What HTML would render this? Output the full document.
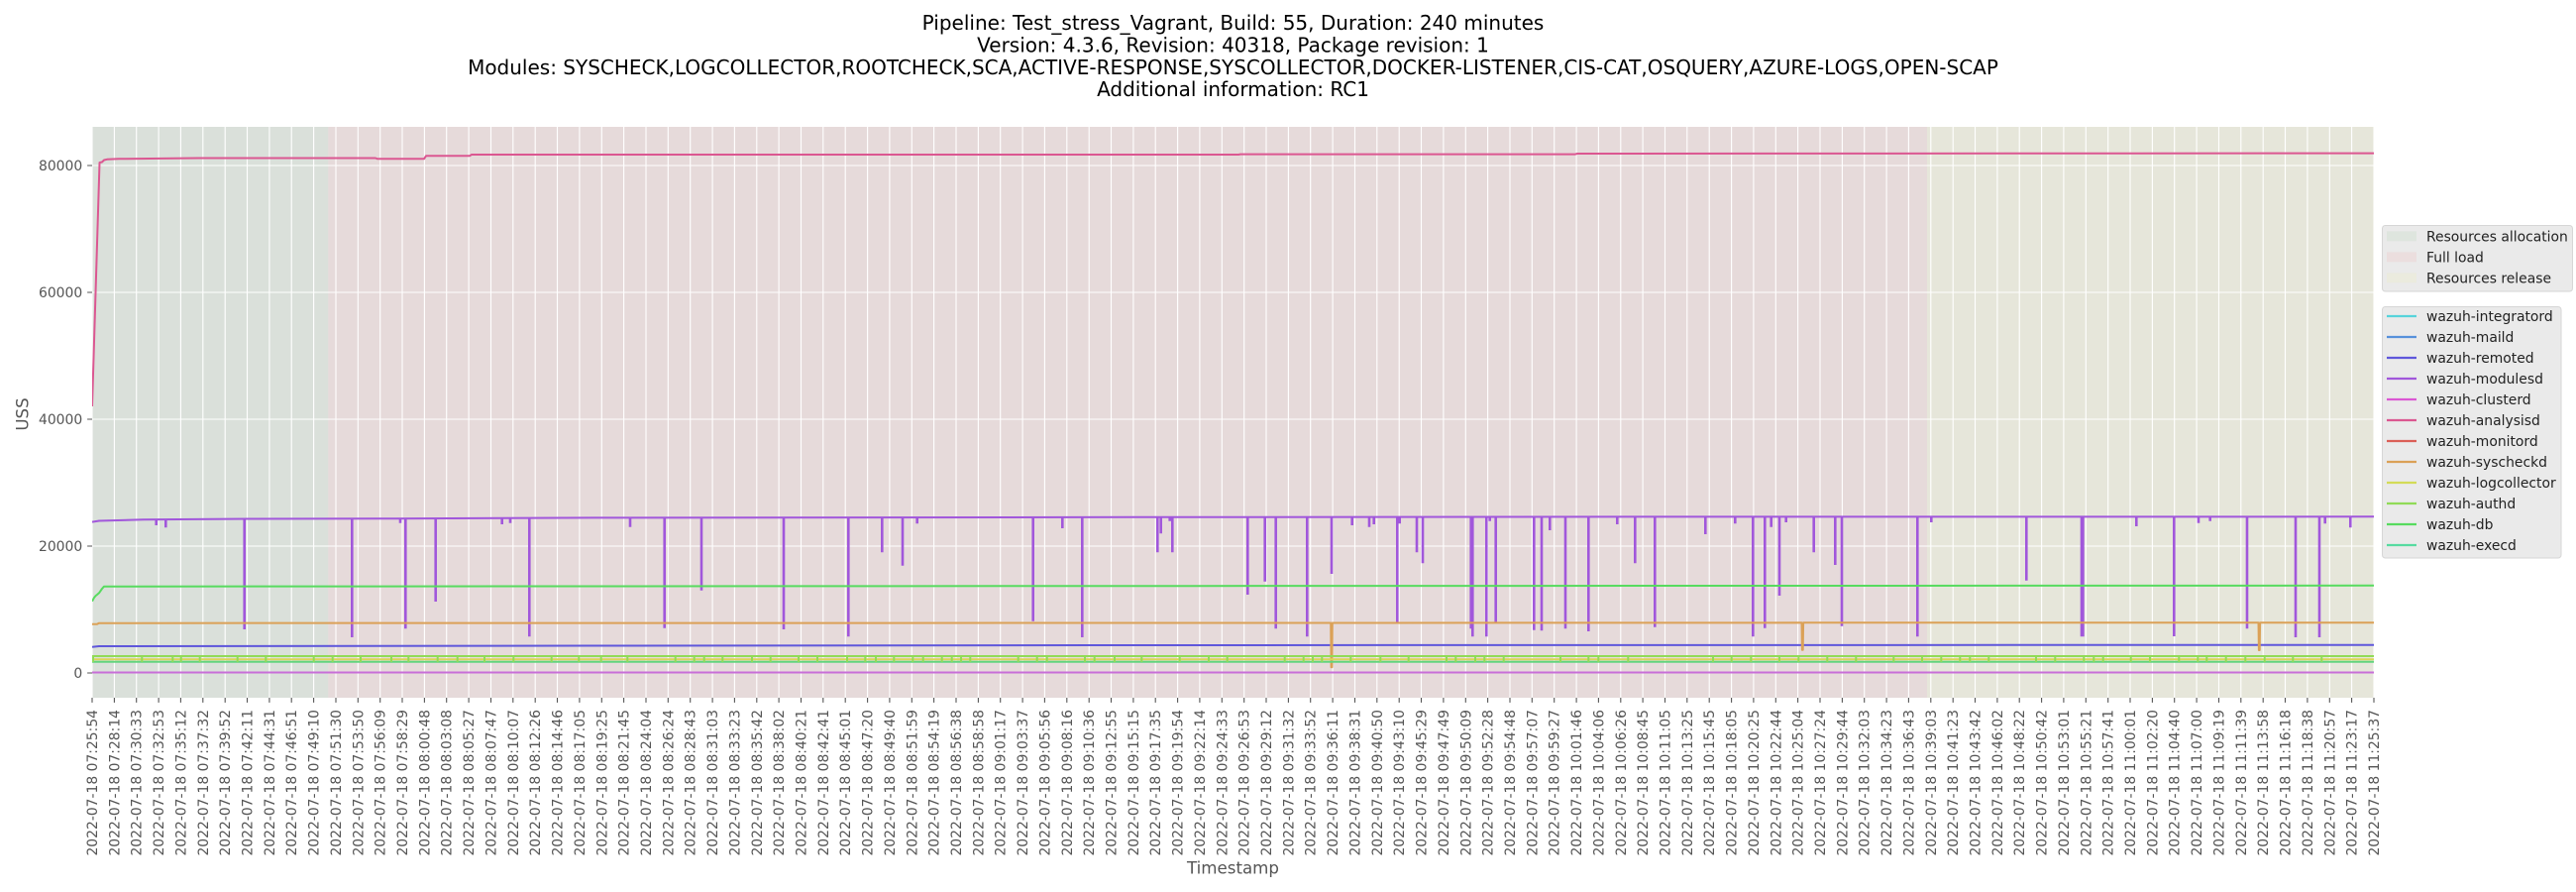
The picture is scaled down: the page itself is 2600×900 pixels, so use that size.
<!DOCTYPE html>
<html><head><meta charset="utf-8"><style>
html,body{margin:0;padding:0;background:#fff;}
svg{display:block;font-family:"DejaVu Sans","Liberation Sans",sans-serif;}
</style></head><body>
<svg width="2600" height="900" viewBox="0 0 2600 900" xmlns="http://www.w3.org/2000/svg">
<defs><clipPath id="pa"><rect x="93" y="128" width="2303" height="576"/></clipPath></defs>
<rect x="0" y="0" width="2600" height="900" fill="#fff"/>
<!-- title -->
<g font-size="20" fill="#000" text-anchor="middle">
<text x="1244.5" y="30.2">Pipeline: Test_stress_Vagrant, Build: 55, Duration: 240 minutes</text>
<text x="1244.5" y="52.5">Version: 4.3.6, Revision: 40318, Package revision: 1</text>
<text x="1244.5" y="74.8">Modules: SYSCHECK,LOGCOLLECTOR,ROOTCHECK,SCA,ACTIVE-RESPONSE,SYSCOLLECTOR,DOCKER-LISTENER,CIS-CAT,OSQUERY,AZURE-LOGS,OPEN-SCAP</text>
<text x="1244.5" y="97.1">Additional information: RC1</text>
</g>
<!-- axes background and spans -->
<rect x="93" y="128" width="2303" height="576" fill="#E5E5E5"/>
<rect x="93" y="128" width="238.3" height="576" fill="#DAE0DA"/>
<rect x="331.3" y="128" width="1613.7" height="576" fill="#E6DADA"/>
<rect x="1945" y="128" width="451" height="576" fill="#E6E6DA"/>
<!-- grid -->
<g stroke="#fff" stroke-width="1.1" fill="none">
<path d="M93 679H2396M93 551H2396M93 423H2396M93 295H2396M93 167H2396"/>
<path d="M93 128V704M115.4 128V704M137.7 128V704M160.1 128V704M182.4 128V704M204.8 128V704M227.2 128V704M249.5 128V704M271.9 128V704M294.2 128V704M316.6 128V704M339 128V704M361.3 128V704M383.7 128V704M406 128V704M428.4 128V704M450.7 128V704M473.1 128V704M495.5 128V704M517.8 128V704M540.2 128V704M562.5 128V704M584.9 128V704M607.3 128V704M629.6 128V704M652 128V704M674.3 128V704M696.7 128V704M719.1 128V704M741.4 128V704M763.8 128V704M786.1 128V704M808.5 128V704M830.8 128V704M853.2 128V704M875.6 128V704M897.9 128V704M920.3 128V704M942.6 128V704M965 128V704M987.4 128V704M1009.7 128V704M1032.1 128V704M1054.4 128V704M1076.8 128V704M1099.2 128V704M1121.5 128V704M1143.9 128V704M1166.2 128V704M1188.6 128V704M1210.9 128V704M1233.3 128V704M1255.7 128V704M1278 128V704M1300.4 128V704M1322.7 128V704M1345.1 128V704M1367.5 128V704M1389.8 128V704M1412.2 128V704M1434.5 128V704M1456.9 128V704M1479.3 128V704M1501.6 128V704M1524 128V704M1546.3 128V704M1568.7 128V704M1591.1 128V704M1613.4 128V704M1635.8 128V704M1658.1 128V704M1680.5 128V704M1702.8 128V704M1725.2 128V704M1747.6 128V704M1769.9 128V704M1792.3 128V704M1814.6 128V704M1837 128V704M1859.4 128V704M1881.7 128V704M1904.1 128V704M1926.4 128V704M1948.8 128V704M1971.2 128V704M1993.5 128V704M2015.9 128V704M2038.2 128V704M2060.6 128V704M2082.9 128V704M2105.3 128V704M2127.7 128V704M2150 128V704M2172.4 128V704M2194.7 128V704M2217.1 128V704M2239.5 128V704M2261.8 128V704M2284.2 128V704M2306.5 128V704M2328.9 128V704M2351.3 128V704M2373.6 128V704M2396 128V704"/>
</g>
<!-- data -->
<g clip-path="url(#pa)" fill="none" stroke-linejoin="round">
<!-- clusterd ~0 -->
<path d="M93 678.5H2396" stroke="#C86ED8" stroke-width="2"/>
<!-- remoted -->
<path d="M93 652.7L100 652L600 651.5L1100 651L2396 650.7" stroke="#5F57DB" stroke-width="2"/>
<!-- modulesd -->
<path d="M93 526.7L100 525.5L145 524.3L250 523.5L400 523.2L600 522.4L1150 521.8L1650 521.4L2396 521.3" stroke="#A157DB" stroke-width="2"/>
<path stroke="#A157DB" stroke-width="2.6" d="M157.7 524V530M167.3 524V532.3M246.7 523.5V635M355.3 523.3V643M404 523.2V527.7M409.3 523.2V634.3M439.7 523.1V607M506.7 523V529M515 523V527.7M534.3 522.9V642.3M636 522.4V531.7M670.7 522.4V633.7M708 522.3V595.7M791 522.2V635M856.3 522.2V642.3M890.3 522.1V557.3M911 522.1V570.7M925.7 522.1V528.3M1042.7 522V626.7M1072.3 522V533M1092.3 521.9V643M1168.3 521.8V557.3M1171.7 521.8V538.3M1180.7 521.8V525.7M1183.3 521.8V557.3M1259.3 521.7V600M1276.7 521.7V586.7M1287.7 521.7V634.3M1319.3 521.7V642.3M1344 521.7V579M1364.7 521.7V530M1382 521.7V531.7M1386.7 521.7V529M1410.3 521.7V627.7M1412.7 521.7V528.3M1430 521.6V557.3M1436 521.6V568.3M1484.7 521.6V634.3M1486.3 521.6V642.3M1500.3 521.6V642.3M1503.7 521.6V525.7M1509.7 521.6V628.3M1548.3 521.5V635.7M1556 521.5V636.3M1564.3 521.5V535M1580 521.5V634.3M1603.3 521.5V637M1632.3 521.4V529M1650.3 521.4V568.3M1670.3 521.4V632.7M1721.3 521.3V539M1751.3 521.3V528.3M1769.3 521.3V642.3M1781.3 521.3V633.7M1787.7 521.3V531.7M1796 521.3V601M1802.7 521.3V527M1830.7 521.3V557.3M1852.3 521.3V570M1859 521.3V631.7M1935.3 521.3V642.3M1949.3 521.3V527M2045.3 521.3V585.7M2101 521.3V642.3M2102.4 521.3V642.3M2156.3 521.3V531M2194.3 521.3V642M2219 521.3V527.7M2230.7 521.3V525.7M2268 521.3V634.3M2317 521.3V643M2341 521.3V643M2346.7 521.3V528.3M2372.3 521.3V532.3"/>
<!-- analysisd -->
<path d="M93 410L100.5 164L103 163.5L105 161.5L108 160.8L120 160.3L200 159.5L379 159.5L381 160.3L428 160.3L430 157.3L474 157.3L476 156L1250 156L1252 155.6L1590 155.6L1592 155L2396 154.6" stroke="#DB5791" stroke-width="2"/>
<!-- syscheckd -->
<path d="M93 629.7L98 629.7L100 628.7L1343.2 628.5L1343.6 673.3L1344.4 673.3L1344.8 628.5L1818.5 628.3L1818.9 655.7L1819.7 655.7L1820.1 628.3L2279.5 628.3L2279.9 656L2280.7 656L2281.1 628.3L2396 628.3" stroke="#DBA157" stroke-width="2"/>
<!-- execd -->
<path d="M93 667.7H2396" stroke="#62D47E" stroke-width="2"/>
<!-- logcollector -->
<path d="M93 665.2H2396" stroke="#DBD657" stroke-width="2"/>
<!-- authd -->
<path d="M93 662H2396" stroke="#91DB57" stroke-width="2"/>
<path stroke="#91DB57" stroke-width="2" d="M94 662V668M143.3 662V668M174.3 662V668M182.7 662V668M201.7 662V668M239.7 662V668M268.3 662V668M316.7 662V668M335.7 662V668M364 662V668M395 662V668M412.3 662V668M441.7 662V668M461.7 662V668M489 662V668M518.3 662V668M556.7 662V668M584.3 662V668M606.7 662V668M633.3 662V668M681.7 662V668M700.7 662V668M710.7 662V668M729.3 662V668M759 662V668M777.7 662V668M806 662V668M825 662V668M855 662V668M873.3 662V668M884 662V668M902.3 662V668M921.3 662V668M931.7 662V668M950.7 662V668M960.7 662V668M970 662V668M979.3 662V668M1027.7 662V668M1046.7 662V668M1056.7 662V668M1095 662V668M1104.7 662V668M1125 662V668M1152.3 662V668M1190.7 662V668M1220 662V668M1238.7 662V668M1296.7 662V668M1315.7 662V668M1325 662V668M1334.3 662V668M1363.3 662V668M1393.3 662V668M1421.7 662V668M1460 662V668M1469.3 662V668M1489 662V668M1498.3 662V668M1517.7 662V668M1575 662V668M1603.3 662V668M1613.3 662V668M1643.3 662V668M1729 662V668M1747.7 662V668M1767.3 662V668M1796 662V668M1815.3 662V668M1844.3 662V668M1873.3 662V668M1911.3 662V668M1940 662V668M1959.3 662V668M1978.3 662V668M1988.3 662V668M2007.3 662V668M2055 662V668M2074.3 662V668M2103.3 662V668M2113.3 662V668M2122.7 662V668M2150.7 662V668M2170 662V668M2199.3 662V668M2218.3 662V668M2227.3 662V668M2246.7 662V668M2266.3 662V668M2285.7 662V668M2314.3 662V668M2343.3 662V668"/>
<!-- db -->
<path d="M93 606.7L95 603L96.7 601L98 600L100 598.3L103 594L105 591.7L1200 591.2L2396 590.8" stroke="#57DB5F" stroke-width="2"/>
</g>
<!-- ticks -->
<g stroke="#555" stroke-width="1.1" fill="none">
<path d="M88.1 679H93M88.1 551H93M88.1 423H93M88.1 295H93M88.1 167H93"/>
<path d="M93 704v4.9M115.4 704v4.9M137.7 704v4.9M160.1 704v4.9M182.4 704v4.9M204.8 704v4.9M227.2 704v4.9M249.5 704v4.9M271.9 704v4.9M294.2 704v4.9M316.6 704v4.9M339 704v4.9M361.3 704v4.9M383.7 704v4.9M406 704v4.9M428.4 704v4.9M450.7 704v4.9M473.1 704v4.9M495.5 704v4.9M517.8 704v4.9M540.2 704v4.9M562.5 704v4.9M584.9 704v4.9M607.3 704v4.9M629.6 704v4.9M652 704v4.9M674.3 704v4.9M696.7 704v4.9M719.1 704v4.9M741.4 704v4.9M763.8 704v4.9M786.1 704v4.9M808.5 704v4.9M830.8 704v4.9M853.2 704v4.9M875.6 704v4.9M897.9 704v4.9M920.3 704v4.9M942.6 704v4.9M965 704v4.9M987.4 704v4.9M1009.7 704v4.9M1032.1 704v4.9M1054.4 704v4.9M1076.8 704v4.9M1099.2 704v4.9M1121.5 704v4.9M1143.9 704v4.9M1166.2 704v4.9M1188.6 704v4.9M1210.9 704v4.9M1233.3 704v4.9M1255.7 704v4.9M1278 704v4.9M1300.4 704v4.9M1322.7 704v4.9M1345.1 704v4.9M1367.5 704v4.9M1389.8 704v4.9M1412.2 704v4.9M1434.5 704v4.9M1456.9 704v4.9M1479.3 704v4.9M1501.6 704v4.9M1524 704v4.9M1546.3 704v4.9M1568.7 704v4.9M1591.1 704v4.9M1613.4 704v4.9M1635.8 704v4.9M1658.1 704v4.9M1680.5 704v4.9M1702.8 704v4.9M1725.2 704v4.9M1747.6 704v4.9M1769.9 704v4.9M1792.3 704v4.9M1814.6 704v4.9M1837 704v4.9M1859.4 704v4.9M1881.7 704v4.9M1904.1 704v4.9M1926.4 704v4.9M1948.8 704v4.9M1971.2 704v4.9M1993.5 704v4.9M2015.9 704v4.9M2038.2 704v4.9M2060.6 704v4.9M2082.9 704v4.9M2105.3 704v4.9M2127.7 704v4.9M2150 704v4.9M2172.4 704v4.9M2194.7 704v4.9M2217.1 704v4.9M2239.5 704v4.9M2261.8 704v4.9M2284.2 704v4.9M2306.5 704v4.9M2328.9 704v4.9M2351.3 704v4.9M2373.6 704v4.9M2396 704v4.9"/>
</g>
<!-- y tick labels -->
<g font-size="13.9" fill="#555" text-anchor="end">
<text x="83.2" y="684">0</text>
<text x="83.2" y="556">20000</text>
<text x="83.2" y="428">40000</text>
<text x="83.2" y="300">60000</text>
<text x="83.2" y="172">80000</text>
</g>
<!-- x tick labels -->
<g font-size="13.9" fill="#555" text-anchor="end">
<text transform="translate(98,716) rotate(-90)">2022-07-18 07:25:54</text>
<text transform="translate(120.4,716) rotate(-90)">2022-07-18 07:28:14</text>
<text transform="translate(142.7,716) rotate(-90)">2022-07-18 07:30:33</text>
<text transform="translate(165.1,716) rotate(-90)">2022-07-18 07:32:53</text>
<text transform="translate(187.4,716) rotate(-90)">2022-07-18 07:35:12</text>
<text transform="translate(209.8,716) rotate(-90)">2022-07-18 07:37:32</text>
<text transform="translate(232.2,716) rotate(-90)">2022-07-18 07:39:52</text>
<text transform="translate(254.5,716) rotate(-90)">2022-07-18 07:42:11</text>
<text transform="translate(276.9,716) rotate(-90)">2022-07-18 07:44:31</text>
<text transform="translate(299.2,716) rotate(-90)">2022-07-18 07:46:51</text>
<text transform="translate(321.6,716) rotate(-90)">2022-07-18 07:49:10</text>
<text transform="translate(344,716) rotate(-90)">2022-07-18 07:51:30</text>
<text transform="translate(366.3,716) rotate(-90)">2022-07-18 07:53:50</text>
<text transform="translate(388.7,716) rotate(-90)">2022-07-18 07:56:09</text>
<text transform="translate(411,716) rotate(-90)">2022-07-18 07:58:29</text>
<text transform="translate(433.4,716) rotate(-90)">2022-07-18 08:00:48</text>
<text transform="translate(455.7,716) rotate(-90)">2022-07-18 08:03:08</text>
<text transform="translate(478.1,716) rotate(-90)">2022-07-18 08:05:27</text>
<text transform="translate(500.5,716) rotate(-90)">2022-07-18 08:07:47</text>
<text transform="translate(522.8,716) rotate(-90)">2022-07-18 08:10:07</text>
<text transform="translate(545.2,716) rotate(-90)">2022-07-18 08:12:26</text>
<text transform="translate(567.5,716) rotate(-90)">2022-07-18 08:14:46</text>
<text transform="translate(589.9,716) rotate(-90)">2022-07-18 08:17:05</text>
<text transform="translate(612.3,716) rotate(-90)">2022-07-18 08:19:25</text>
<text transform="translate(634.6,716) rotate(-90)">2022-07-18 08:21:45</text>
<text transform="translate(657,716) rotate(-90)">2022-07-18 08:24:04</text>
<text transform="translate(679.3,716) rotate(-90)">2022-07-18 08:26:24</text>
<text transform="translate(701.7,716) rotate(-90)">2022-07-18 08:28:43</text>
<text transform="translate(724.1,716) rotate(-90)">2022-07-18 08:31:03</text>
<text transform="translate(746.4,716) rotate(-90)">2022-07-18 08:33:23</text>
<text transform="translate(768.8,716) rotate(-90)">2022-07-18 08:35:42</text>
<text transform="translate(791.1,716) rotate(-90)">2022-07-18 08:38:02</text>
<text transform="translate(813.5,716) rotate(-90)">2022-07-18 08:40:21</text>
<text transform="translate(835.8,716) rotate(-90)">2022-07-18 08:42:41</text>
<text transform="translate(858.2,716) rotate(-90)">2022-07-18 08:45:01</text>
<text transform="translate(880.6,716) rotate(-90)">2022-07-18 08:47:20</text>
<text transform="translate(902.9,716) rotate(-90)">2022-07-18 08:49:40</text>
<text transform="translate(925.3,716) rotate(-90)">2022-07-18 08:51:59</text>
<text transform="translate(947.6,716) rotate(-90)">2022-07-18 08:54:19</text>
<text transform="translate(970,716) rotate(-90)">2022-07-18 08:56:38</text>
<text transform="translate(992.4,716) rotate(-90)">2022-07-18 08:58:58</text>
<text transform="translate(1014.7,716) rotate(-90)">2022-07-18 09:01:17</text>
<text transform="translate(1037.1,716) rotate(-90)">2022-07-18 09:03:37</text>
<text transform="translate(1059.4,716) rotate(-90)">2022-07-18 09:05:56</text>
<text transform="translate(1081.8,716) rotate(-90)">2022-07-18 09:08:16</text>
<text transform="translate(1104.2,716) rotate(-90)">2022-07-18 09:10:36</text>
<text transform="translate(1126.5,716) rotate(-90)">2022-07-18 09:12:55</text>
<text transform="translate(1148.9,716) rotate(-90)">2022-07-18 09:15:15</text>
<text transform="translate(1171.2,716) rotate(-90)">2022-07-18 09:17:35</text>
<text transform="translate(1193.6,716) rotate(-90)">2022-07-18 09:19:54</text>
<text transform="translate(1215.9,716) rotate(-90)">2022-07-18 09:22:14</text>
<text transform="translate(1238.3,716) rotate(-90)">2022-07-18 09:24:33</text>
<text transform="translate(1260.7,716) rotate(-90)">2022-07-18 09:26:53</text>
<text transform="translate(1283,716) rotate(-90)">2022-07-18 09:29:12</text>
<text transform="translate(1305.4,716) rotate(-90)">2022-07-18 09:31:32</text>
<text transform="translate(1327.7,716) rotate(-90)">2022-07-18 09:33:52</text>
<text transform="translate(1350.1,716) rotate(-90)">2022-07-18 09:36:11</text>
<text transform="translate(1372.5,716) rotate(-90)">2022-07-18 09:38:31</text>
<text transform="translate(1394.8,716) rotate(-90)">2022-07-18 09:40:50</text>
<text transform="translate(1417.2,716) rotate(-90)">2022-07-18 09:43:10</text>
<text transform="translate(1439.5,716) rotate(-90)">2022-07-18 09:45:29</text>
<text transform="translate(1461.9,716) rotate(-90)">2022-07-18 09:47:49</text>
<text transform="translate(1484.3,716) rotate(-90)">2022-07-18 09:50:09</text>
<text transform="translate(1506.6,716) rotate(-90)">2022-07-18 09:52:28</text>
<text transform="translate(1529,716) rotate(-90)">2022-07-18 09:54:48</text>
<text transform="translate(1551.3,716) rotate(-90)">2022-07-18 09:57:07</text>
<text transform="translate(1573.7,716) rotate(-90)">2022-07-18 09:59:27</text>
<text transform="translate(1596.1,716) rotate(-90)">2022-07-18 10:01:46</text>
<text transform="translate(1618.4,716) rotate(-90)">2022-07-18 10:04:06</text>
<text transform="translate(1640.8,716) rotate(-90)">2022-07-18 10:06:26</text>
<text transform="translate(1663.1,716) rotate(-90)">2022-07-18 10:08:45</text>
<text transform="translate(1685.5,716) rotate(-90)">2022-07-18 10:11:05</text>
<text transform="translate(1707.8,716) rotate(-90)">2022-07-18 10:13:25</text>
<text transform="translate(1730.2,716) rotate(-90)">2022-07-18 10:15:45</text>
<text transform="translate(1752.6,716) rotate(-90)">2022-07-18 10:18:05</text>
<text transform="translate(1774.9,716) rotate(-90)">2022-07-18 10:20:25</text>
<text transform="translate(1797.3,716) rotate(-90)">2022-07-18 10:22:44</text>
<text transform="translate(1819.6,716) rotate(-90)">2022-07-18 10:25:04</text>
<text transform="translate(1842,716) rotate(-90)">2022-07-18 10:27:24</text>
<text transform="translate(1864.4,716) rotate(-90)">2022-07-18 10:29:44</text>
<text transform="translate(1886.7,716) rotate(-90)">2022-07-18 10:32:03</text>
<text transform="translate(1909.1,716) rotate(-90)">2022-07-18 10:34:23</text>
<text transform="translate(1931.4,716) rotate(-90)">2022-07-18 10:36:43</text>
<text transform="translate(1953.8,716) rotate(-90)">2022-07-18 10:39:03</text>
<text transform="translate(1976.2,716) rotate(-90)">2022-07-18 10:41:23</text>
<text transform="translate(1998.5,716) rotate(-90)">2022-07-18 10:43:42</text>
<text transform="translate(2020.9,716) rotate(-90)">2022-07-18 10:46:02</text>
<text transform="translate(2043.2,716) rotate(-90)">2022-07-18 10:48:22</text>
<text transform="translate(2065.6,716) rotate(-90)">2022-07-18 10:50:42</text>
<text transform="translate(2087.9,716) rotate(-90)">2022-07-18 10:53:01</text>
<text transform="translate(2110.3,716) rotate(-90)">2022-07-18 10:55:21</text>
<text transform="translate(2132.7,716) rotate(-90)">2022-07-18 10:57:41</text>
<text transform="translate(2155,716) rotate(-90)">2022-07-18 11:00:01</text>
<text transform="translate(2177.4,716) rotate(-90)">2022-07-18 11:02:20</text>
<text transform="translate(2199.7,716) rotate(-90)">2022-07-18 11:04:40</text>
<text transform="translate(2222.1,716) rotate(-90)">2022-07-18 11:07:00</text>
<text transform="translate(2244.5,716) rotate(-90)">2022-07-18 11:09:19</text>
<text transform="translate(2266.8,716) rotate(-90)">2022-07-18 11:11:39</text>
<text transform="translate(2289.2,716) rotate(-90)">2022-07-18 11:13:58</text>
<text transform="translate(2311.5,716) rotate(-90)">2022-07-18 11:16:18</text>
<text transform="translate(2333.9,716) rotate(-90)">2022-07-18 11:18:38</text>
<text transform="translate(2356.3,716) rotate(-90)">2022-07-18 11:20:57</text>
<text transform="translate(2378.6,716) rotate(-90)">2022-07-18 11:23:17</text>
<text transform="translate(2401,716) rotate(-90)">2022-07-18 11:25:37</text>
</g>
<!-- axis labels -->
<text x="1244.5" y="881.5" font-size="16.67" fill="#555" text-anchor="middle">Timestamp</text>
<text transform="translate(28.5,418) rotate(-90)" font-size="16.67" fill="#555" text-anchor="middle">USS</text>
<!-- legend 1 -->
<rect x="2404.5" y="227.5" width="192" height="66.5" rx="3" fill="#EAEAEA" stroke="#D6D6D6" stroke-width="1"/>
<rect x="2409" y="233.3" width="30" height="10" fill="#DEE5DE"/>
<rect x="2409" y="254.3" width="30" height="10" fill="#EBDEDE"/>
<rect x="2409" y="275.3" width="30" height="10" fill="#EBEBDE"/>
<g font-size="13.9" fill="#222">
<text x="2449" y="243.3">Resources allocation</text>
<text x="2449" y="264.3">Full load</text>
<text x="2449" y="285.3">Resources release</text>
</g>
<!-- legend 2 -->
<rect x="2404.5" y="309.5" width="180.5" height="253.5" rx="3" fill="#EAEAEA" stroke="#D6D6D6" stroke-width="1"/>
<g stroke-width="2.2">
<path d="M2409 319H2439" stroke="#57D3DB"/>
<path d="M2409 340H2439" stroke="#5791DB"/>
<path d="M2409 361H2439" stroke="#5F57DB"/>
<path d="M2409 382H2439" stroke="#A157DB"/>
<path d="M2409 403H2439" stroke="#DB57D3"/>
<path d="M2409 424H2439" stroke="#DB5791"/>
<path d="M2409 445H2439" stroke="#DB5F57"/>
<path d="M2409 466H2439" stroke="#DBA157"/>
<path d="M2409 487H2439" stroke="#D3DB57"/>
<path d="M2409 508H2439" stroke="#91DB57"/>
<path d="M2409 529H2439" stroke="#57DB5F"/>
<path d="M2409 550H2439" stroke="#57DBA1"/>
</g>
<g font-size="13.9" fill="#222">
<text x="2449" y="324">wazuh-integratord</text>
<text x="2449" y="345">wazuh-maild</text>
<text x="2449" y="366">wazuh-remoted</text>
<text x="2449" y="387">wazuh-modulesd</text>
<text x="2449" y="408">wazuh-clusterd</text>
<text x="2449" y="429">wazuh-analysisd</text>
<text x="2449" y="450">wazuh-monitord</text>
<text x="2449" y="471">wazuh-syscheckd</text>
<text x="2449" y="492">wazuh-logcollector</text>
<text x="2449" y="513">wazuh-authd</text>
<text x="2449" y="534">wazuh-db</text>
<text x="2449" y="555">wazuh-execd</text>
</g>
</svg>
</body></html>
